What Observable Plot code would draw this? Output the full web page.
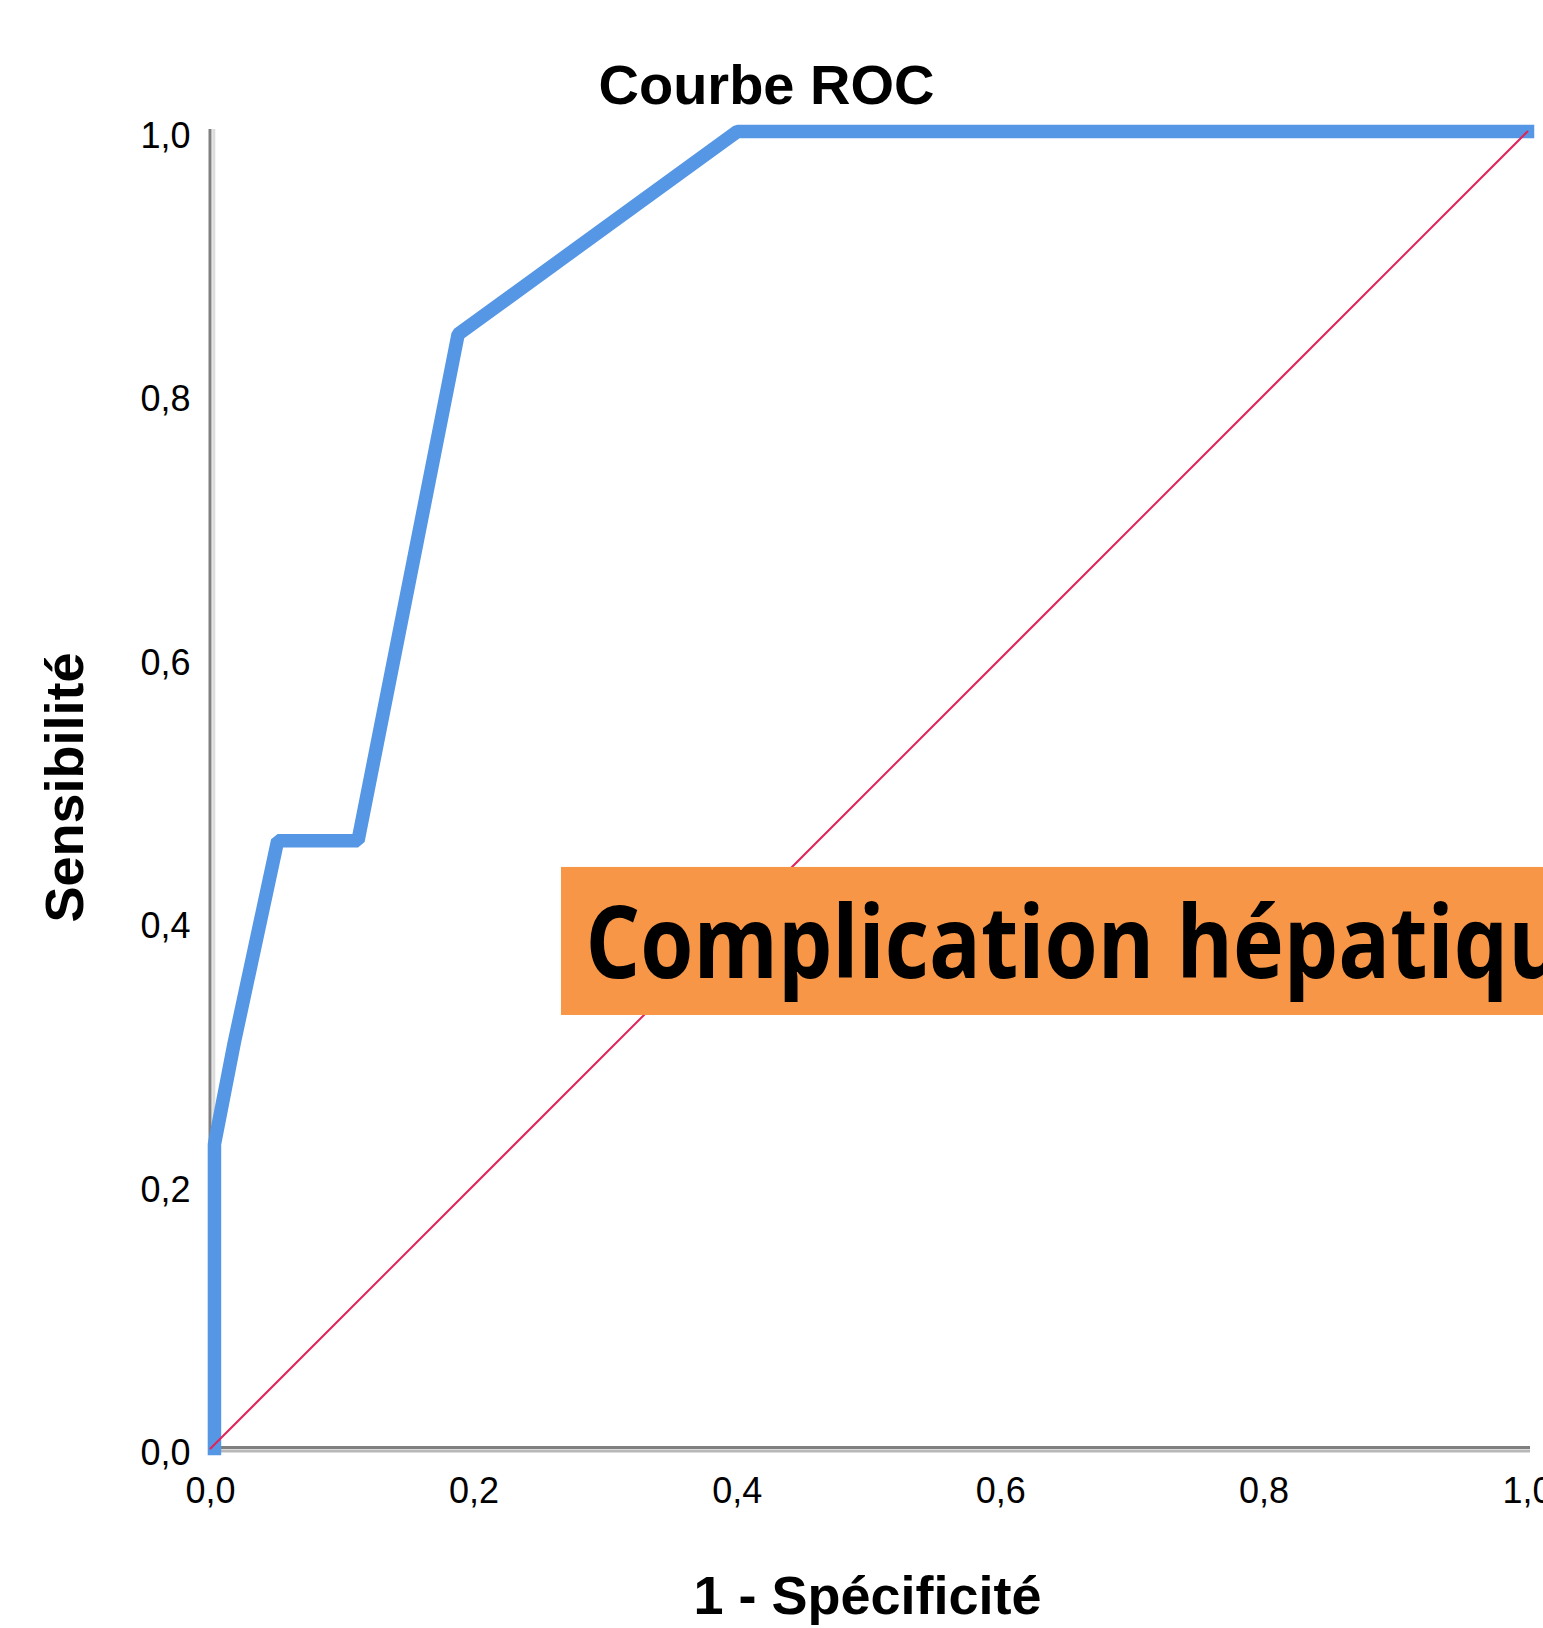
<!DOCTYPE html>
<html>
<head>
<meta charset="utf-8">
<script src="https://cdn.jsdelivr.net/npm/d3@7"></script>
<script src="https://cdn.jsdelivr.net/npm/@observablehq/plot@0.6"></script>
<style>
  html, body { margin: 0; padding: 0; background: white; overflow: hidden; }
</style>
</head>
<body>
<div id="chart"></div>
<script>
// ROC curve: 1 - specificity (x) vs sensitivity (y)
const fpr = [0.003, 0.003, 0.018, 0.051, 0.112, 0.188, 0.400, 1.0];
const tpr = [0, 0.231, 0.308, 0.4615, 0.4615, 0.846, 1.0, 1.0];
// reference diagonal
const diagX = [0, 1];
const diagY = [0, 1];
// tick values
const tickValues = [0, 0.2, 0.4, 0.6, 0.8, 1.0];
// texts
const chartTitle = "Courbe ROC";
const xTitle = "1 - Spécificité";
const yTitle = "Sensibilité";
const annotationText = "Complication hépatique";

const roc = fpr.map((x, i) => ({x, y: tpr[i]}));
const diag = diagX.map((x, i) => ({x, y: diagY[i]}));
const fmt = d => d.toFixed(1).replace(".", ",");

const bold = "'Liberation Sans', Arial, sans-serif";

const chart = Plot.plot({
  width: 1543,
  height: 1628,
  marginLeft: 210,
  marginRight: 16,
  marginTop: 131,
  marginBottom: 180,
  x: {domain: [0, 1]},
  y: {domain: [0, 1]},
  style: {fontFamily: "'Liberation Sans', Arial, sans-serif", background: "white", color: "black"},
  marks: [
    Plot.axisX(tickValues, {tickFormat: fmt, tickSize: 0, tickPadding: 29, fontSize: 36, label: null}),
    Plot.axisY(tickValues, {tickFormat: fmt, tickSize: 0, tickPadding: 20, fontSize: 36, dy: 5, label: null}),
    // axis lines (gray + light shadow)
    Plot.ruleX([0], {stroke: "#dcdcdc", strokeWidth: 3, dx: 3.3, insetTop: -2, insetBottom: -4}),
    Plot.ruleX([0], {stroke: "#808080", strokeWidth: 3, dx: -0.5, insetTop: -2, insetBottom: -4}),
    Plot.ruleY([0], {stroke: "#b8b8b8", strokeWidth: 3, dy: 2.5, insetLeft: -2, insetRight: -3}),
    Plot.ruleY([0], {stroke: "#808080", strokeWidth: 3, dy: -1, insetLeft: -2, insetRight: -3}),
    Plot.line(roc, {x: "x", y: "y", stroke: "#5596e5", strokeWidth: 13.5, strokeLinejoin: "miter", strokeLinecap: "square"}),
    Plot.line(diag, {x: "x", y: "y", stroke: "#e0245a", strokeWidth: 2}),
    // annotation box
    Plot.rect([annotationText], {x1: 0.2665, x2: 1.2, y1: 0.3288, y2: 0.4412, fill: "#f79646"}),
    Plot.text([annotationText], {text: d => d, x: 0.2847, y: 0.3819, textAnchor: "start", lineAnchor: "middle",
      fontSize: 100, fontWeight: "bold", fontFamily: "'Open Sans', 'Noto Sans', sans-serif", fill: "black"}),
    // titles
    Plot.text([chartTitle], {text: d => d, frameAnchor: "top", textAnchor: "middle", lineAnchor: "middle",
      dx: -102.5, dy: -45, fontSize: 56, fontWeight: "bold", fontFamily: bold, fill: "black"}),
    Plot.text([xTitle], {text: d => d, frameAnchor: "bottom", textAnchor: "middle", lineAnchor: "middle",
      dx: -1.5, dy: 148, fontSize: 54, fontWeight: "bold", fontFamily: bold, fill: "black"}),
    Plot.text([yTitle], {text: d => d, frameAnchor: "left", textAnchor: "middle", lineAnchor: "middle",
      rotate: -90, dx: -145, dy: -2.5, fontSize: 54, fontWeight: "bold", fontFamily: bold, fill: "black"})
  ]
});

d3.select(chart).selectAll("text")
  .filter(function() { return this.textContent === annotationText; })
  .attr("textLength", 1030)
  .attr("lengthAdjust", "spacingAndGlyphs");

document.getElementById("chart").appendChild(chart);
</script>
</body>
</html>
